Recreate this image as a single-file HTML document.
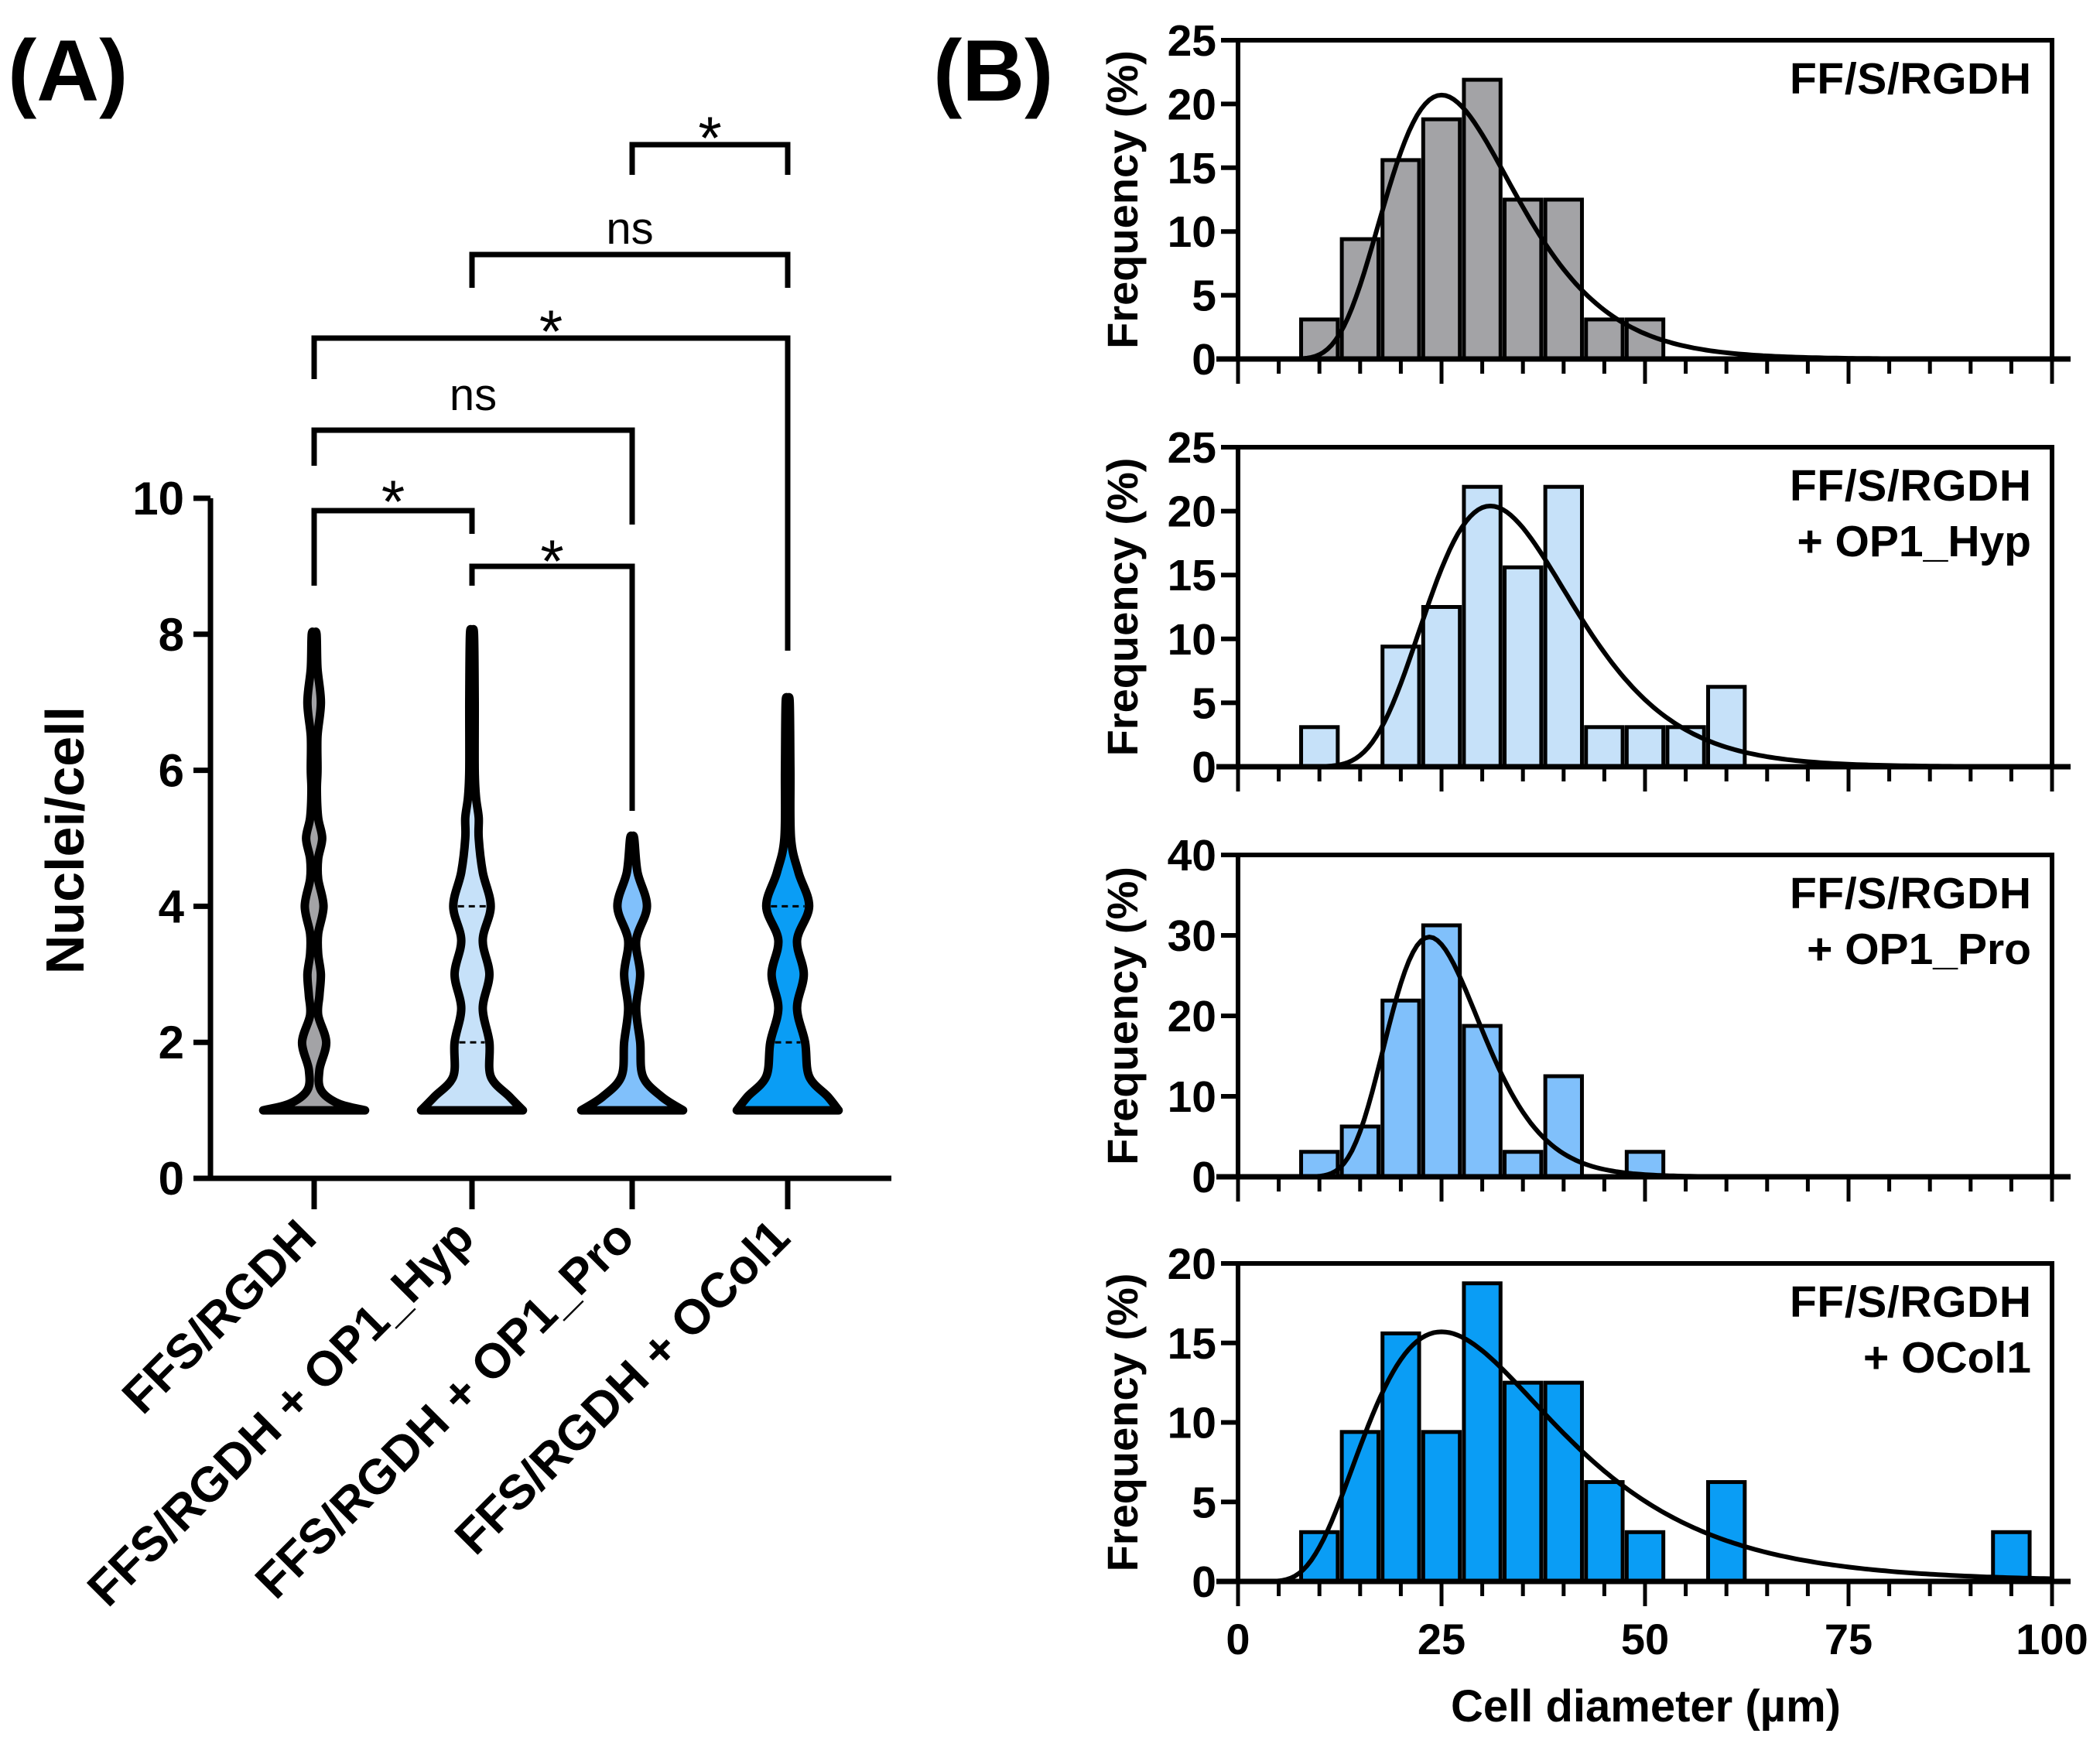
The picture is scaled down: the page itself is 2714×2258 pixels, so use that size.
<!DOCTYPE html>
<html><head><meta charset="utf-8">
<style>
html,body{margin:0;padding:0;background:#fff;}
svg{display:block;font-family:"Liberation Sans",Arial,sans-serif;font-weight:bold;}
</style></head>
<body>
<svg id="fig" width="2714" height="2258" viewBox="0 0 2714 2258" xmlns="http://www.w3.org/2000/svg">
<g id="panelA"></g>
<g id="panelB"></g>
</svg>
<script>
// ---------- Panel A data ----------
const violinCategories = ["FFS/RGDH", "FFS/RGDH + OP1_Hyp", "FFS/RGDH + OP1_Pro", "FFS/RGDH + OCol1"];
const violinColors = ["#a3a3a6", "#c6e1f9", "#80c0fb", "#0a9df5"];
const violinLevels = [
  [1,1.1,1.3,1.6,2,2.4,2.7,3,3.3,3.6,4,4.4,4.7,5,5.3,5.7,6,6.5,7,7.5,8],
  [1,1.2,1.5,2,2.5,3,3.5,4,4.5,5,5.3,5.6,6,7,8],
  [1,1.2,1.5,2,2.5,3,3.5,4,4.5,5],
  [1,1.2,1.5,2,2.5,3,3.5,4,4.5,5,6,7]
];
const violinDensity = [
  [38,18,5,4,9,3,4,5,3,3,7,3,3,6,3,2,2.5,2.5,5,2.5,1.8],
  [38,28,14,13,8,13,8,14,8,5,5,3,2,2,1.5],
  [38,22,8,6,3,6,3,11,4,1.5],
  [38,30,16,13,7,12,7,16,8,2.5,2,1.5]
];
const violinQuartiles = [[], [2,4], [], [2,4]];
const yTicksA = [0,2,4,6,8,10];
const bracketLabels = ["*","ns","*","ns","*","*"];
const bracketPairs = [[2,3],[1,3],[0,3],[0,2],[0,1],[1,2]];

// ---------- Panel B data ----------
const histBins = [10,15,20,25,30,35,40,45,50,55,60,65,70,75,80,85,90,95];
const histSeries = [
  [3.1,9.4,15.6,18.8,21.9,12.5,12.5,3.1,3.1,0,0,0,0,0,0,0,0,0],
  [3.1,0,9.4,12.5,21.9,15.6,21.9,3.1,3.1,3.1,6.25,0,0,0,0,0,0,0],
  [3.1,6.25,21.9,31.25,18.75,3.1,12.5,0,3.1,0,0,0,0,0,0,0,0,0],
  [3.1,9.4,15.6,9.4,18.75,12.5,12.5,6.25,3.1,0,6.25,0,0,0,0,0,0,3.1]
];
const histYMax = [25,25,40,20];
const histYTicks = [[0,5,10,15,20,25],[0,5,10,15,20,25],[0,10,20,30,40],[0,5,10,15,20]];
const histColors = ["#a3a3a6","#c6e1f9","#80c0fb","#0a9df5"];
const histTitles = [["FF/S/RGDH"],["FF/S/RGDH","+ OP1_Hyp"],["FF/S/RGDH","+ OP1_Pro"],["FF/S/RGDH","+ OCol1"]];
const fitAmp = [20.7, 20.4, 29.8, 15.7];
const fitMode = [25, 31, 23.5, 25];
const fitSigma = [0.32, 0.29, 0.246, 0.46];
const xTicksB = [0,25,50,75,100];

const NS = "http://www.w3.org/2000/svg";
function mk(tag, attrs, parent){
  const e = document.createElementNS(NS, tag);
  for (const k in attrs) e.setAttribute(k, attrs[k]);
  parent.appendChild(e);
  return e;
}
function txt(s, attrs, parent){ const t = mk("text", attrs, parent); t.textContent = s; return t; }

// ===== Panel A =====
const A = document.getElementById("panelA");
const ax0 = 272, axRight = 1152, ay0 = 1523, ay10 = 644;
const catX = [406, 610, 817, 1018];
const yA = v => ay0 + (ay10 - ay0) * v / 10;
const wScale = 1.732;

let t = txt("(A)", {x: 10, y: 130, "font-size": 112}, A);



let ln = mk("line", {x1: ax0, y1: ay10, x2: ax0, y2: ay0 + 3, stroke: "#000", "stroke-width": 7}, A);


ln = mk("line", {x1: ax0 - 22, y1: ay0, x2: axRight, y2: ay0, stroke: "#000", "stroke-width": 7}, A);


yTicksA.forEach(v => {
  const y = yA(v);
  const tk = mk("line", {x1: ax0 - 22, y1: y, x2: ax0, y2: y, stroke: "#000", "stroke-width": 7}, A);
  
  
  const tl = txt(String(v), {x: ax0 - 34, y: y + 21, "font-size": 60, "text-anchor": "end"}, A);
  
  
});
t = txt("Nuclei/cell", {x: 0, y: 0, "font-size": 70, "text-anchor": "middle", transform: "translate(108,1086) rotate(-90)"}, A);



violinCategories.forEach((c, i) => {
  const x = catX[i];
  const tk = mk("line", {x1: x, y1: ay0, x2: x, y2: ay0 + 40, stroke: "#000", "stroke-width": 7}, A);
  
  
  const tl = txt(c, {x: 0, y: 0, "font-size": 63, "text-anchor": "end", transform: `translate(${x + 6},${ay0 + 80}) rotate(-45)`}, A);
  
  
});

function smoothPath(pts){
  let d = "";
  for (let i = 0; i < pts.length - 1; i++){
    const p0 = pts[Math.max(0, i - 1)], p1 = pts[i], p2 = pts[i + 1], p3 = pts[Math.min(pts.length - 1, i + 2)];
    const c1 = [p1[0] + (p2[0] - p0[0]) / 6, p1[1] + (p2[1] - p0[1]) / 6];
    const c2 = [p2[0] - (p3[0] - p1[0]) / 6, p2[1] - (p3[1] - p1[1]) / 6];
    d += ` C${c1[0].toFixed(1)},${c1[1].toFixed(1)} ${c2[0].toFixed(1)},${c2[1].toFixed(1)} ${p2[0].toFixed(1)},${p2[1].toFixed(1)}`;
  }
  return d;
}
violinCategories.forEach((c, i) => {
  const x = catX[i];
  const lv = violinLevels[i], dn = violinDensity[i];
  const right = lv.map((v, k) => [x + dn[k] * wScale, yA(v)]);
  const topY = yA(lv[lv.length - 1]);
  right.push([x, topY]);
  const left = lv.map((v, k) => [x - dn[k] * wScale, yA(v)]).reverse();
  left.unshift([x, topY]);
  let d = `M${(x - dn[0] * wScale).toFixed(1)},${yA(lv[0]).toFixed(1)} L${right[0][0].toFixed(1)},${right[0][1].toFixed(1)}`;
  d += smoothPath(right);
  d += smoothPath(left) + " Z";
  const p = mk("path", {d: d, fill: violinColors[i], stroke: "#000", "stroke-width": 11, "stroke-linejoin": "round"}, A);
  
  
  violinQuartiles[i].forEach(q => {
    const k = lv.indexOf(q);
    const w = (k >= 0 ? dn[k] : 10) * wScale - 6;
    const ql = mk("line", {x1: x - w, y1: yA(q), x2: x + w, y2: yA(q), stroke: "#000", "stroke-width": 3, "stroke-dasharray": "8,6"}, A);
    
    
  });
});

const bracketY = [187, 329, 437, 556, 660, 732];
const bracketLegs = [[226,226],[372,372],[490,841],[602,678],[757,690],[757,1048]];
const bracketTextY = [175, 315, 425, 530, 645, 722];
bracketPairs.forEach((pr, k) => {
  const x1 = catX[pr[0]], x2 = catX[pr[1]], y = bracketY[k];
  const b = mk("path", {d: `M${x1},${bracketLegs[k][0]} L${x1},${y} L${x2},${y} L${x2},${bracketLegs[k][1]}`, fill: "none", stroke: "#000", "stroke-width": 7, "stroke-linejoin": "miter"}, A);
  
  
  const star = bracketLabels[k] === "*";
  const tl = txt(bracketLabels[k], {x: (x1 + x2) / 2, y: star ? bracketTextY[k] + 30 : bracketTextY[k], "font-size": star ? 78 : 58, "font-weight": "normal", "text-anchor": "middle"}, A);
  
  
});

// ===== Panel B =====
const B = document.getElementById("panelB");
t = txt("(B)", {x: 1206, y: 130, "font-size": 112}, B);


const bx0 = 1600, bx1 = 2652;
const panelTop = [52, 578, 1105, 1633];
const panelBase = [464, 991, 1521, 2044];
const xB = v => bx0 + (bx1 - bx0) * v / 100;

histSeries.forEach((series, p) => {
  const g = mk("g", {}, B);
  
  
  const top = panelTop[p], base = panelBase[p], ymax = histYMax[p];
  const yB = v => base - (base - top) * v / ymax;
  series.forEach((v, k) => {
    if (v <= 0) return;
    const c = histBins[k];
    const r = mk("rect", {x: xB(c - 2.25), y: yB(v), width: xB(c + 2.25) - xB(c - 2.25), height: base - yB(v), fill: histColors[p], stroke: "#000", "stroke-width": 5}, g);
    
    
  });
  let d = "";
  for (let xv = 1; xv <= 100; xv += 0.5){
    const f = fitAmp[p] * Math.exp(-Math.pow(Math.log(xv / fitMode[p]), 2) / (2 * fitSigma[p] * fitSigma[p]));
    d += (d ? " L" : "M") + xB(xv).toFixed(1) + "," + yB(f).toFixed(1);
  }
  const fc = mk("path", {d: d, fill: "none", stroke: "#000", "stroke-width": 6}, g);
  
  
  const fr = mk("path", {d: `M${bx0},${base} L${bx0},${top} L${bx1},${top} L${bx1},${base}`, fill: "none", stroke: "#000", "stroke-width": 6}, g);
  
  
  const xa = mk("line", {x1: bx0 - 28, y1: base, x2: bx1 + 24, y2: base, stroke: "#000", "stroke-width": 7}, g);
  
  
  for (let v = 0; v <= 100; v += 5){
    const major = v % 25 === 0;
    const tk = mk("line", {x1: xB(v), y1: base, x2: xB(v), y2: base + (major ? 32 : 19), stroke: "#000", "stroke-width": 5}, g);
    
    
  }
  histYTicks[p].forEach(v => {
    const y = yB(v);
    const tk = mk("line", {x1: bx0 - 22, y1: y, x2: bx0, y2: y, stroke: "#000", "stroke-width": 6}, g);
    
    
    const tl = txt(String(v), {x: bx0 - 28, y: y + 20, "font-size": 57, "text-anchor": "end"}, g);
    
    
  });
  const yt = txt("Frequency (%)", {x: 0, y: 0, "font-size": 56, "text-anchor": "middle", transform: `translate(1470,${(top + base) / 2}) rotate(-90)`}, g);
  
  
  histTitles[p].forEach((s, k) => {
    const lt = txt(s, {x: 2625, y: top + 69 + k * 72, "font-size": 57, "text-anchor": "end"}, g);
    if (s.startsWith("FF")) lt.setAttribute("textLength", 312);
    
    
  });
});
xTicksB.forEach(v => {
  const tl = txt(String(v), {x: xB(v), y: 2138, "font-size": 56, "text-anchor": "middle"}, B);
  
  
});
t = txt("Cell diameter (µm)", {x: 2127, y: 2225, "font-size": 58, "text-anchor": "middle"}, B);


</script>
</body></html>
